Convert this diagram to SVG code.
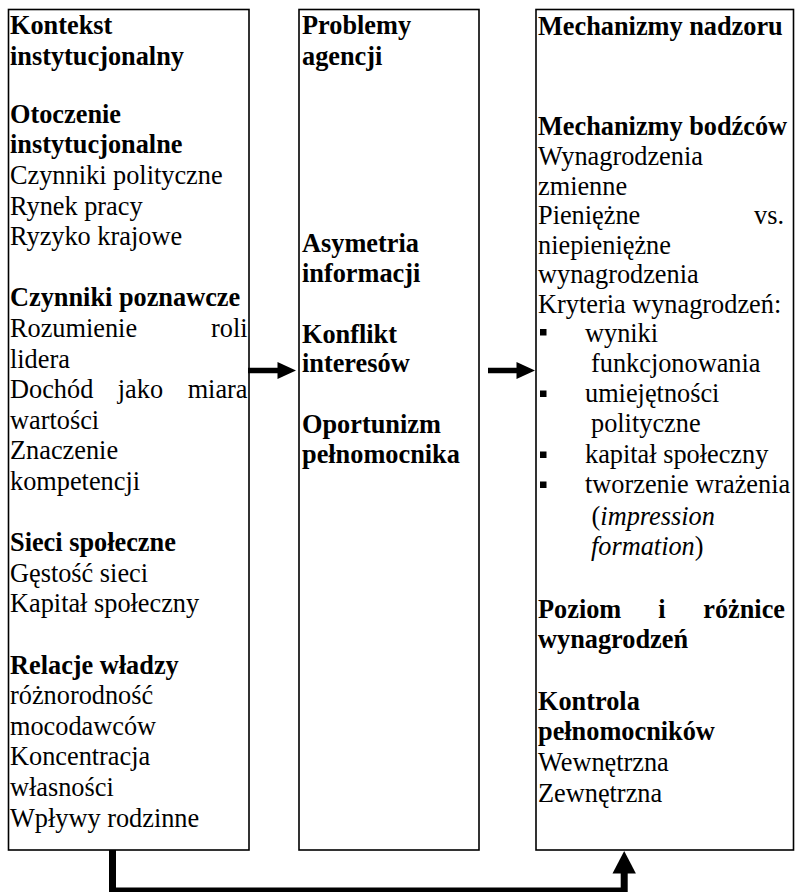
<svg xmlns="http://www.w3.org/2000/svg" width="795" height="892" viewBox="0 0 795 892">
<style>
text{font-family:"Liberation Serif","Times New Roman",serif;font-size:28px;fill:#000}
.b{font-weight:bold}
.i{font-style:italic}
.e{text-anchor:end}
.box{fill:#fff;stroke:#000;stroke-width:1.6}
.conn{fill:none;stroke:#000;stroke-linejoin:miter;stroke-linecap:butt}
</style>
<rect width="795" height="892" fill="#fff"/>
<g id="node-kontekst">
<rect class="box" x="8.5" y="9.5" width="240.5" height="840.5"/>
<g transform="translate(10 0) scale(0.94 1)">
<text class="b" y="34.5">Kontekst</text>
<text class="b" y="65">instytucjonalny</text>
<text class="b" y="122.9">Otoczenie</text>
<text class="b" y="153.5">instytucjonalne</text>
<text y="184.1">Czynniki polityczne</text>
<text y="214.7">Rynek pracy</text>
<text y="245.3">Ryzyko krajowe</text>
<text class="b" y="306.5">Czynniki poznawcze</text>
<text y="337.1">Rozumienie</text>
<text class="e" x="252.7" y="337.1">roli</text>
<text y="367.7">lidera</text>
<text y="398.3">Dochód</text>
<text x="114.7" y="398.3">jako</text>
<text class="e" x="252.7" y="398.3">miara</text>
<text y="428.9">wartości</text>
<text y="459.5">Znaczenie</text>
<text y="490.1">kompetencji</text>
<text class="b" y="551.3">Sieci społeczne</text>
<text y="581.9">Gęstość sieci</text>
<text y="612.5">Kapitał społeczny</text>
<text class="b" y="673.7">Relacje władzy</text>
<text y="704.3">różnorodność</text>
<text y="734.9">mocodawców</text>
<text y="765.5">Koncentracja</text>
<text y="796.1">własności</text>
<text y="826.7">Wpływy rodzinne</text>
</g>
</g>
<g id="node-problemy">
<rect class="box" x="299" y="9.5" width="180" height="840.5"/>
<g transform="translate(302 0) scale(0.94 1)">
<text class="b" y="34.5">Problemy</text>
<text class="b" y="65">agencji</text>
<text class="b" y="252">Asymetria</text>
<text class="b" y="282">informacji</text>
<text class="b" y="343">Konflikt</text>
<text class="b" y="372.5">interesów</text>
<text class="b" y="433">Oportunizm</text>
<text class="b" y="463.5">pełnomocnika</text>
</g>
</g>
<g id="node-mechanizmy">
<rect class="box" x="536" y="9.5" width="257.5" height="840.5"/>
<g id="bullets">
<rect x="540" y="329" width="6.5" height="6.5"/>
<rect x="540" y="390.5" width="6.5" height="6.5"/>
<rect x="540" y="451.5" width="6.5" height="6.5"/>
<rect x="540" y="481.5" width="6.5" height="6.5"/>
</g>
<g transform="translate(538 0) scale(0.94 1)">
<text class="b" y="35">Mechanizmy nadzoru</text>
<text class="b" y="135">Mechanizmy bodźców</text>
<text y="165">Wynagrodzenia</text>
<text y="194.7">zmienne</text>
<text y="224.4">Pieniężne</text>
<text class="e" x="261.7" y="224.4">vs.</text>
<text y="254">niepieniężne</text>
<text y="283.5">wynagrodzenia</text>
<text y="313">Kryteria wynagrodzeń:</text>
<text x="50" y="342">wyniki</text>
<text x="56.4" y="372">funkcjonowania</text>
<text x="50" y="402">umiejętności</text>
<text x="56.4" y="432">polityczne</text>
<text x="50" y="463">kapitał społeczny</text>
<text x="50" y="493">tworzenie wrażenia</text>
<text x="57" y="525">(<tspan class="i">impression</tspan></text>
<text x="56.4" y="555"><tspan class="i">formation</tspan>)</text>
<text class="b" y="618">Poziom</text>
<text class="b" x="128" y="618">i</text>
<text class="b e" x="262.8" y="618">różnice</text>
<text class="b" y="648.5">wynagrodzeń</text>
<text class="b" y="710">Kontrola</text>
<text class="b" y="740.5">pełnomocników</text>
<text y="771.5">Wewnętrzna</text>
<text y="802">Zewnętrzna</text>
</g>
</g>
<g id="connectors">
<line class="conn" x1="248" y1="370.5" x2="279" y2="370.5" stroke-width="5.5"/>
<polygon points="277.5,362 296,370.5 277.5,379"/>
<line class="conn" x1="488" y1="370.5" x2="518" y2="370.5" stroke-width="5.5"/>
<polygon points="516.5,362 535,370.5 516.5,379"/>
<path class="conn" d="M112.5 850 V891 H624.2 V872" stroke-width="7"/>
<polygon points="612.5,873.5 624.2,851 635.9,873.5"/>
</g>
</svg>
